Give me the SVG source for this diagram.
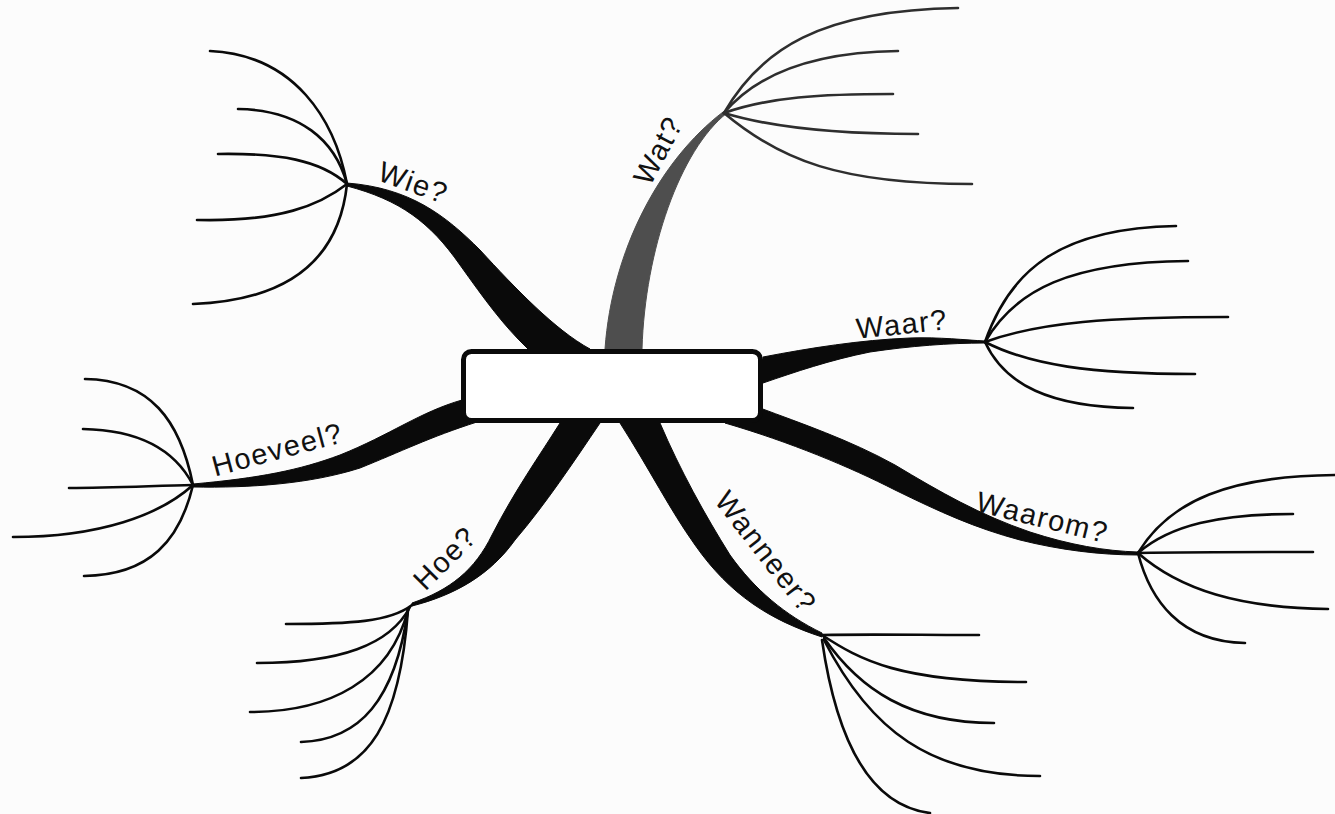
<svg xmlns="http://www.w3.org/2000/svg" width="1335" height="814" viewBox="0 0 1335 814">
<style>
.br{fill:#0a0a0a;stroke:#0a0a0a;stroke-width:1;stroke-linejoin:round}
.brg{fill:#4e4e4e;stroke:#4e4e4e;stroke-width:1;stroke-linejoin:round}
.tw{fill:none;stroke:#0a0a0a;stroke-width:2.6;stroke-linecap:round}
.twg{fill:none;stroke:#2e2e2e;stroke-width:2.6;stroke-linecap:round}
.lbl{font-family:"Liberation Sans",Arial,sans-serif;font-size:29px;letter-spacing:1.5px;fill:#111;text-anchor:middle}
.box{fill:#fff;stroke:#0a0a0a;stroke-width:5}
</style>
<rect width="1335" height="814" fill="#fcfcfc"/>
<g id="connectors">
  <path id="br-wie" class="br" d="M347,183 C410,188 445,215 480,250 C515,288 555,330 590,349 L528,349 C503,325 485,300 460,265 C430,222 400,200 347,186 Z"/>
  <path id="br-wat" class="brg" d="M727,113 C680,150 645,250 642,349 L605,349 C612,250 660,160 723,112 Z"/>
  <path id="br-hoeveel" class="br" d="M193,484 C260,478 300,470 340,455 C390,435 420,412 462,400 L477,422 C430,437 400,452 360,468 C310,484 250,488 193,487 Z"/>
  <path id="br-hoe" class="br" d="M412,603 C450,590 475,570 492,535 C515,490 540,455 560,423 L600,423 C575,460 545,505 515,540 C490,575 455,595 412,606 Z"/>
  <path id="br-wanneer" class="br" d="M620,423 C650,470 670,510 695,545 C730,595 770,620 822,637 L822,633 C785,615 755,590 730,555 C705,515 680,470 660,423 Z"/>
  <path id="br-waar" class="br" d="M763,357 C810,348 860,340 910,338 C940,337 965,340 985,341 L985,343 C950,343 910,346 870,352 C830,360 795,372 763,383 Z"/>
  <path id="br-waarom" class="br" d="M760,408 C800,423 850,440 895,465 C940,492 980,515 1030,532 C1070,545 1105,551 1138,552 L1138,555 C1100,555 1060,550 1020,540 C975,528 940,512 895,490 C850,467 790,442 725,423 Z"/>
  <path class="tw" d="M347,184 C335,120 295,55 210,51"/>
  <path class="tw" d="M347,184 C335,140 300,110 238,109"/>
  <path class="tw" d="M347,184 C320,160 280,153 218,154"/>
  <path class="tw" d="M347,184 C320,205 280,222 197,220"/>
  <path class="tw" d="M347,184 C340,250 300,300 193,304"/>
  <path class="twg" d="M724,113 C760,50 820,10 958,8"/>
  <path class="twg" d="M724,113 C760,70 820,52 898,51"/>
  <path class="twg" d="M724,113 C770,97 820,94 893,94"/>
  <path class="twg" d="M724,113 C770,127 830,134 918,134"/>
  <path class="twg" d="M724,113 C780,160 840,184 972,184"/>
  <path class="tw" d="M193,485 C180,420 150,380 85,379"/>
  <path class="tw" d="M193,485 C175,450 140,430 83,429"/>
  <path class="tw" d="M193,485 C150,486 110,488 69,488"/>
  <path class="tw" d="M193,485 C160,515 100,537 13,537"/>
  <path class="tw" d="M193,485 C180,540 150,575 84,576"/>
  <path class="tw" d="M412,605 C390,622 350,624 286,624"/>
  <path class="tw" d="M410,607 C390,645 340,663 257,663"/>
  <path class="tw" d="M408,610 C390,680 330,712 250,712"/>
  <path class="tw" d="M408,610 C395,700 360,740 301,742"/>
  <path class="tw" d="M408,610 C400,720 370,775 301,778"/>
  <path class="tw" d="M822,635 C870,634 920,635 979,635"/>
  <path class="tw" d="M822,635 C860,660 900,682 1026,682"/>
  <path class="tw" d="M824,638 C860,690 910,723 994,723"/>
  <path class="tw" d="M824,640 C870,730 930,776 1040,776"/>
  <path class="tw" d="M822,640 C835,730 865,805 930,813"/>
  <path class="tw" d="M985,342 C1010,270 1060,228 1176,226"/>
  <path class="tw" d="M985,342 C1015,290 1070,262 1188,261"/>
  <path class="tw" d="M985,342 C1040,322 1110,317 1228,317"/>
  <path class="tw" d="M985,342 C1030,365 1090,374 1195,374"/>
  <path class="tw" d="M985,342 C1005,385 1050,407 1133,408"/>
  <path class="tw" d="M1138,553 C1170,500 1230,476 1335,475"/>
  <path class="tw" d="M1138,553 C1170,525 1220,514 1293,514"/>
  <path class="tw" d="M1138,553 C1200,552 1260,552 1313,552"/>
  <path class="tw" d="M1138,553 C1180,590 1240,608 1328,609"/>
  <path class="tw" d="M1138,553 C1150,600 1180,642 1245,643"/>
</g>
<g id="center">
  <rect class="box" x="463.5" y="351.5" width="297" height="69" rx="8"/>
</g>
<g id="wie"><text class="lbl" transform="translate(410,192) rotate(20)">Wie?</text></g>
<g id="wat"><text class="lbl" transform="translate(667,155) rotate(-62)">Wat?</text></g>
<g id="hoeveel"><text class="lbl" transform="translate(280,459) rotate(-15)">Hoeveel?</text></g>
<g id="hoe"><text class="lbl" transform="translate(452,565) rotate(-45)">Hoe?</text></g>
<g id="wanneer"><text class="lbl" transform="translate(758,558) rotate(52)">Wanneer?</text></g>
<g id="waar"><text class="lbl" transform="translate(903,334) rotate(-6)">Waar?</text></g>
<g id="waarom"><text class="lbl" transform="translate(1040,527) rotate(14)">Waarom?</text></g>
</svg>
